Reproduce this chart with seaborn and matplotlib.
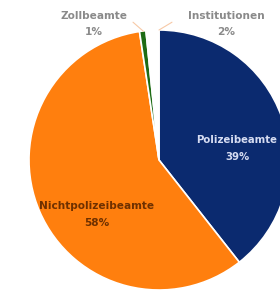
import matplotlib
matplotlib.use("Agg")
import matplotlib.pyplot as plt
import seaborn as sns

# data (labels show rounded shares)
labels = ["Polizeibeamte", "Nichtpolizeibeamte", "Zollbeamte", "Institutionen"]
shares = [39.4, 58.2, 0.8, 1.6]
slice_colors = ["#0b2a6f", "#ff7f0e", "#1e6b14", "#ffffff"]

sns.set_theme(style="white")
plt.rcParams["font.family"] = ["DejaVu Sans"]

fig = plt.figure(figsize=(2.8, 2.92), dpi=100)
# pie centre at about (159, 160) px, radius 130 px
ax = fig.add_axes([(159 - 130) / 280, (292 - 160 - 130) / 292, 260 / 280, 260 / 292])
wedges, _ = ax.pie(shares, colors=slice_colors, startangle=90, counterclock=False,
                   radius=1.0, wedgeprops=dict(edgecolor="white", linewidth=1.2))
ax.set_xlim(-1, 1)
ax.set_ylim(-1, 1)
ax.set_aspect("equal")
ax.axis("off")

fs = 7.6
pct = [f"{round(s):.0f}%" for s in shares]

# inside labels
ax.text(0.6, 0.088, f"{labels[0]}\n{pct[0]}", ha="center", va="center",
        fontsize=7.3, color="#d6dcf2", fontweight="bold", linespacing=1.8)
ax.text(-0.48, -0.42, f"{labels[1]}\n{pct[1]}", ha="center", va="center",
        fontsize=fs, color="#6e3000", fontweight="bold", linespacing=1.9)

# outside labels with leader lines
ax.plot([-0.2, -0.12], [1.06, 0.99], color="#f7c9a6", lw=0.8, clip_on=False)
ax.text(-0.5, 1.046, f"{labels[2]}\n{pct[2]}", ha="center", va="center",
        fontsize=fs, color="#8a8a8a", fontweight="bold", linespacing=1.75)
ax.plot([0.0, 0.1], [1.0, 1.06], color="#f7c9a6", lw=0.8, clip_on=False)
ax.text(0.52, 1.046, f"{labels[3]}\n{pct[3]}", ha="center", va="center",
        fontsize=fs, color="#8a8a8a", fontweight="bold", linespacing=1.75)

fig.savefig("out.png", dpi=100, facecolor="white")
